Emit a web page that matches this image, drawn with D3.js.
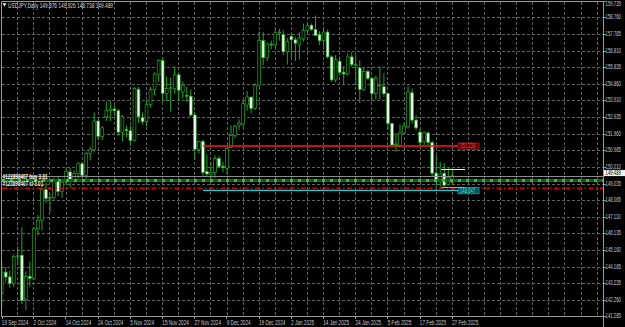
<!DOCTYPE html>
<html>
<head>
<meta charset="utf-8">
<script src="https://cdn.jsdelivr.net/npm/d3@7"></script>
<style>
  body { margin: 0; background: #000; }
  svg { display: block; }
  text { font-family: "Liberation Sans", Arial, sans-serif; }
</style>
</head>
<body>
<svg width="625" height="327"></svg>
<script>
// trading days shown (first one is only half visible at the left edge)
var dates = [
  "2024-09-19","2024-09-20","2024-09-23","2024-09-24","2024-09-25","2024-09-26","2024-09-27","2024-09-30",
  "2024-10-01","2024-10-02","2024-10-03","2024-10-04","2024-10-07","2024-10-08","2024-10-09","2024-10-10",
  "2024-10-11","2024-10-14","2024-10-15","2024-10-16","2024-10-17","2024-10-18","2024-10-21","2024-10-22",
  "2024-10-23","2024-10-24","2024-10-25","2024-10-28","2024-10-29","2024-10-30","2024-10-31","2024-11-01",
  "2024-11-04","2024-11-05","2024-11-06","2024-11-07","2024-11-08","2024-11-11","2024-11-12","2024-11-13",
  "2024-11-14","2024-11-15","2024-11-18","2024-11-19","2024-11-20","2024-11-21","2024-11-22","2024-11-25",
  "2024-11-26","2024-11-27","2024-11-28","2024-11-29","2024-12-02","2024-12-03","2024-12-04","2024-12-05",
  "2024-12-06","2024-12-09","2024-12-10","2024-12-11","2024-12-12","2024-12-13","2024-12-16","2024-12-17",
  "2024-12-18","2024-12-19","2024-12-20","2024-12-23","2024-12-24","2024-12-26","2024-12-27","2024-12-30",
  "2024-12-31","2025-01-02","2025-01-03","2025-01-06","2025-01-07","2025-01-08","2025-01-09","2025-01-10",
  "2025-01-13","2025-01-14","2025-01-15","2025-01-16","2025-01-17","2025-01-20","2025-01-21","2025-01-22",
  "2025-01-23","2025-01-24","2025-01-27","2025-01-28","2025-01-29","2025-01-30","2025-01-31","2025-02-03",
  "2025-02-04","2025-02-05","2025-02-06","2025-02-07","2025-02-10","2025-02-11","2025-02-12","2025-02-13",
  "2025-02-14","2025-02-17","2025-02-18","2025-02-19","2025-02-20","2025-02-21","2025-02-24","2025-02-25",
  "2025-02-26","2025-02-27"
];

var opens = [
  142.25,142.60,143.86,143.58,143.20,144.78,144.85,142.25,
  143.62,143.50,146.40,146.90,148.68,148.18,148.22,149.25,
  148.58,149.12,149.72,149.22,149.62,150.20,149.52,150.80,
  151.05,152.70,151.80,152.95,153.30,153.40,153.30,152.05,
  152.20,152.13,151.56,154.55,152.90,152.66,153.65,154.55,
  155.40,156.23,154.30,154.60,154.60,155.40,154.40,154.20,
  154.15,153.05,151.05,151.50,149.75,149.55,149.70,150.50,
  150.05,149.95,151.15,151.86,152.43,152.53,153.63,154.10,
  153.45,154.80,157.40,156.40,157.20,157.15,157.85,157.75,
  156.75,157.65,157.45,157.15,157.50,158.00,158.30,158.05,
  157.75,157.40,157.90,156.45,155.10,156.20,155.55,155.45,
  156.45,155.95,155.80,154.55,155.60,155.20,154.30,154.75,
  154.70,154.30,152.55,151.30,151.25,152.00,152.35,154.35,
  152.75,152.05,151.50,152.00,151.45,149.65,149.30,149.65,
  149.00,149.10
];
var highs = [
  143.95,144.49,144.15,143.95,144.90,145.35,146.49,143.90,
  144.48,146.50,147.20,149.00,149.10,148.45,149.40,149.50,
  149.30,149.90,149.95,149.80,150.30,150.32,150.90,151.20,
  153.20,152.80,152.40,153.85,153.90,153.60,153.40,153.05,
  152.43,152.43,154.70,154.70,153.20,153.90,154.70,155.55,
  156.30,156.45,155.30,155.25,155.90,155.45,155.00,154.70,
  154.55,153.20,151.55,151.60,150.75,150.30,150.70,150.65,
  150.30,151.20,152.45,152.50,152.80,153.90,154.45,154.12,
  154.90,157.93,157.90,157.30,157.40,158.10,158.10,158.00,
  157.55,157.85,157.60,157.90,158.40,158.50,158.40,158.87,
  157.95,158.20,158.05,156.55,156.55,156.45,155.90,156.65,
  156.75,156.55,156.25,155.85,155.70,155.30,155.35,155.90,
  155.50,154.35,152.60,152.00,152.50,152.60,154.75,154.60,
  153.05,152.25,152.10,152.10,151.55,150.70,150.30,150.25,
  149.95,149.85
];
var lows = [
  141.75,141.73,143.25,142.95,143.00,144.30,142.00,141.65,
  143.00,143.40,146.00,146.30,147.90,147.35,148.10,148.30,
  148.20,149.00,148.80,149.10,149.30,149.40,149.10,150.40,
  150.90,151.60,151.60,152.70,152.70,153.00,151.85,151.50,
  151.75,151.26,151.50,152.60,152.50,152.40,153.50,154.20,
  155.00,153.85,153.85,153.25,154.30,153.90,154.00,153.80,
  152.95,150.45,150.80,149.50,149.45,149.10,149.35,149.95,
  149.70,149.60,151.10,151.70,152.20,152.35,153.30,153.15,
  153.35,154.70,155.95,156.20,156.90,157.00,157.40,156.55,
  156.00,156.40,156.20,156.30,157.35,157.90,157.98,157.65,
  157.15,157.05,156.35,155.00,154.95,155.35,154.80,155.35,
  155.85,154.80,153.75,154.45,155.10,153.85,153.95,153.95,
  154.10,152.20,151.25,150.90,151.15,151.95,152.25,152.55,
  152.15,151.30,151.30,151.30,149.45,148.85,148.85,148.85,
  148.95,148.95
];
var closes = [
  142.60,143.86,143.58,143.20,144.78,144.82,142.20,143.62,
  143.50,146.40,146.90,148.68,148.18,148.22,149.25,148.58,
  149.12,149.75,149.22,149.62,150.20,149.52,150.80,151.05,
  152.70,151.80,152.30,153.30,153.40,153.30,152.05,152.95,
  152.13,151.56,154.60,152.95,152.66,153.65,154.55,155.45,
  156.23,154.32,154.60,154.65,155.40,154.50,154.80,154.15,
  153.05,151.05,151.50,149.68,149.60,149.70,150.50,150.05,
  149.97,151.10,151.86,152.40,152.57,153.73,154.10,153.43,
  154.80,157.40,156.40,157.20,157.15,157.85,157.90,156.75,
  157.35,157.45,157.25,157.55,158.00,158.30,158.05,157.70,
  157.40,157.90,156.45,155.10,156.30,155.55,155.45,156.45,
  156.00,156.00,154.55,155.60,155.20,154.30,155.20,154.80,
  154.30,152.55,151.30,151.35,152.00,152.40,154.40,152.75,
  152.30,151.45,152.00,151.45,149.65,149.25,149.60,148.95,
  149.40,149.50
];

// right axis labels, as printed by the terminal
var priceTicks = [159.735,158.760,157.785,156.810,155.835,154.860,153.910,152.935,151.960,150.985,
                  150.010,149.035,148.085,147.110,146.135,145.160,144.185,143.235,142.260,141.285];

var title = "USDJPY,Daily  149.876 149.926 148.738 149.489";
var bidPrice = 149.489;
var orderPrice = 149.22, stopPrice = 148.77;
var orderLabels = ["#122898407 buy 3.01", "#122898407 sl 3.01"];
var redLevel = 151.238, cyanLevel = 148.647;
var boxTop = 149.876, boxBottom = 148.86;

var svg = d3.select("svg"),
  W = 625, H = 327,
  right = 603.5, bottom = 316.5;

var parse = d3.timeParse("%Y-%m-%d"),
  fmt = d3.timeFormat("%-d %b %Y");

var x = d3.scaleLinear().domain([0, dates.length - 1]).range([-2.32, 452.3]);
var y = d3.scaleLinear().domain([141.279, 159.735]).range([316.3, 0.7]);

var green = "#1ea81e", axisCol = "#9a9a9a", gridCol = "#616161", labelCol = "#c8c8c8";

// narrow text, the terminal font is much tighter than ours
function label(g, px, py, s, col, sx, weight) {
  return g.append("text")
    .attr("transform", "translate(" + px + "," + py + ") scale(" + (sx || 0.7) + ",1)")
    .attr("font-size", 6.5)
    .attr("font-weight", weight || "normal")
    .attr("fill", col)
    .text(s);
}

svg.append("rect").attr("width", W).attr("height", H).attr("fill", "#000");

svg.append("defs").append("clipPath").attr("id", "plot")
  .append("rect").attr("x", 2).attr("y", 2).attr("width", right - 2).attr("height", bottom - 2);

var plot = svg.append("g").attr("clip-path", "url(#plot)");

// grid
priceTicks.forEach(function (v) {
  var yy = Math.round(y(v)) + 0.5;
  plot.append("line").attr("x1", 2).attr("x2", right).attr("y1", yy).attr("y2", yy)
    .attr("stroke", gridCol).attr("stroke-dasharray", "3,2");
});
for (var i = 5; x(i) < right - 2; i += 4) {
  var xx = Math.round(x(i) - 0.5) + 0.5;
  plot.append("line").attr("x1", xx).attr("x2", xx).attr("y1", 2).attr("y2", bottom)
    .attr("stroke", gridCol).attr("stroke-dasharray", "3,2");
}

// candles
var bars = dates.map(function (d, i) {
  return { date: parse(d), o: opens[i], h: highs[i], l: lows[i], c: closes[i], i: i };
});

var candle = plot.selectAll(".candle").data(bars).enter().append("g").attr("class", "candle");
candle.append("line")
  .attr("x1", (d) => x(d.i)).attr("x2", (d) => x(d.i))
  .attr("y1", (d) => y(d.h)).attr("y2", (d) => y(d.l))
  .attr("stroke", green).attr("stroke-width", 1);
candle.append("rect")
  .attr("x", (d) => x(d.i) - 1.4)
  .attr("width", 2.8)
  .attr("y", (d) => y(Math.max(d.o, d.c)))
  .attr("height", (d) => Math.max(0.6, Math.abs(y(d.o) - y(d.c))))
  .attr("fill", (d) => (d.c < d.o ? "#f4fff4" : "#000"))
  .attr("stroke", green).attr("stroke-width", 0.7);

// bid line
var yb = Math.round(y(bidPrice)) + 0.5;
plot.append("line").attr("x1", 2).attr("x2", right).attr("y1", yb).attr("y2", yb)
  .attr("stroke", "#8c8c8c");

// order line (open price) and stop loss line
var yo = y(orderPrice);
plot.append("line").attr("x1", 2).attr("x2", right).attr("y1", yo).attr("y2", yo)
  .attr("stroke", "#135f13").attr("stroke-width", 3.2);
plot.append("line").attr("x1", 2).attr("x2", right).attr("y1", yo).attr("y2", yo)
  .attr("stroke", "#3fb83f").attr("stroke-width", 3.2).attr("stroke-dasharray", "3,5");

var ys = y(stopPrice);
plot.append("line").attr("x1", 2).attr("x2", right).attr("y1", ys).attr("y2", ys)
  .attr("stroke", "#d40000").attr("stroke-width", 1.6).attr("stroke-dasharray", "5,2.5,1.5,2.5");

// horizontal levels with price tags
function level(price, col, fill, txtCol) {
  var yy = y(price), x0 = x(51), x1 = 458;
  plot.append("line").attr("x1", x0).attr("x2", x1).attr("y1", yy).attr("y2", yy)
    .attr("stroke", col).attr("stroke-width", 1.3);
  plot.append("rect").attr("x", x1).attr("y", yy - 3).attr("width", 21).attr("height", 6.5)
    .attr("fill", fill).attr("stroke", col).attr("stroke-width", 0.6);
  label(plot, x1 + 2, yy + 2.3, price.toFixed(3), txtCol, 0.65);
}
level(redLevel, "#ff1a1a", "#5a0000", "#ff4040");
level(cyanLevel, "#00d8e0", "#004a50", "#30f0f8");

// short segments at the current bar
[[boxTop, "#f0f0f0"], [boxBottom, "#a8a8a8"]].forEach(function (p) {
  var yy = Math.round(y(p[0])) + 0.5;
  plot.append("line").attr("x1", x(110) + 1).attr("x2", 465).attr("y1", yy).attr("y2", yy)
    .attr("stroke", p[1]);
});

// order labels
label(plot, 2.7, y(orderPrice) - 1.8, orderLabels[0], "#ffffff", 0.7, "bold");
label(plot, 2.7, y(stopPrice) - 1.8, orderLabels[1], "#e8e8e8", 0.7, "bold");

// frame
var frame = svg.append("g").attr("stroke", axisCol).attr("fill", "none");
frame.append("path").attr("d", "M1.5," + bottom + "V1.5H" + right + "V" + H);
frame.append("path").attr("d", "M1," + bottom + "H" + right);

// price axis
priceTicks.forEach(function (v) {
  var yy = Math.round(y(v)) + 0.5;
  svg.append("line").attr("x1", right).attr("x2", right + 2.5).attr("y1", yy).attr("y2", yy)
    .attr("stroke", axisCol);
  label(svg, 605.5, Math.max(yy + 1.8, 5.5), v.toFixed(3), labelCol, 0.66);
});

// bid price tag
svg.append("rect").attr("x", right + 0.5).attr("y", yb - 6.6).attr("width", 21).attr("height", 6.2)
  .attr("fill", "#f4f4f4");
label(svg, 605.5, yb - 1.4, bidPrice.toFixed(3), "#000", 0.66);

// time axis: leftmost bar date, then every 8th bar
var timeTicks = [{ i: 0, x: 1.5 }];
for (var k = 9; k < bars.length; k += 8) timeTicks.push({ i: k, x: x(k) - 0.6 });
timeTicks.forEach(function (t) {
  var xx = Math.round(t.x) + 0.5;
  svg.append("line").attr("x1", xx).attr("x2", xx).attr("y1", bottom).attr("y2", bottom + 2.5)
    .attr("stroke", axisCol);
  label(svg, t.x + 0.3, 325, fmt(bars[t.i].date), labelCol, 0.72);
});

// title
svg.append("path").attr("d", "M2.5,3.2L6.5,3.2L4.5,6.4Z").attr("fill", "#e8e8e8");
label(svg, 8, 7.6, title, "#dcdcdc", 0.74);
</script>
</body>
</html>
